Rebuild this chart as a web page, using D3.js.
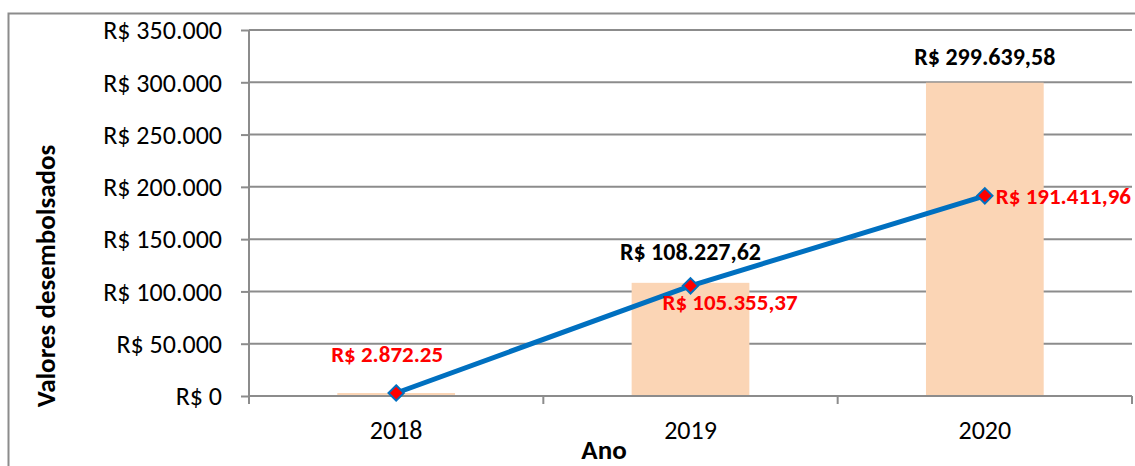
<!DOCTYPE html>
<html>
<head>
<meta charset="utf-8">
<script src="https://cdn.jsdelivr.net/npm/d3@7"></script>
<style>
  body { margin: 0; background: #fff; }
  text { font-family: Calibri, Carlito, Lato, sans-serif; }
</style>
</head>
<body>
<script>
// data
var anos = ["2018", "2019", "2020"];
var valoresBarra = [2872.25, 108227.62, 299639.58];
var valoresLinha = [2872.25, 105355.37, 191411.96];
var rotulosBarra = ["", "R$ 108.227,62", "R$ 299.639,58"];
var rotulosLinha = ["R$ 2.872.25", "R$ 105.355,37", "R$ 191.411,96"];
var ticksY = [0, 50000, 100000, 150000, 200000, 250000, 300000, 350000];

var width = 1135;
var height = 466;
var plot = {left: 249, right: 1132, top: 30, bottom: 396};

var br = d3.formatLocale({decimal: ",", thousands: ".", grouping: [3], currency: ["R$ ", ""]});
var fmt = br.format("$,.0f");

var svg = d3.select("body").append("svg")
    .attr("width", width)
    .attr("height", height);

// outer frame (runs off the right/bottom edge like the original)
svg.append("rect")
    .attr("x", 8.5).attr("y", 13.5)
    .attr("width", 1140).attr("height", 470)
    .attr("fill", "none")
    .attr("stroke", "#8c8c8c")
    .attr("stroke-width", 2);

var x = d3.scaleBand()
    .domain(anos)
    .range([plot.left, plot.right]);

var y = d3.scaleLinear()
    .domain([0, 350000])
    .range([plot.bottom, plot.top]);

// gridlines
svg.append("g").selectAll("line")
    .data(ticksY.filter(function(d) { return d > 0; }))
    .enter().append("line")
    .attr("x1", plot.left).attr("x2", plot.right)
    .attr("y1", function(d) { return y(d); })
    .attr("y2", function(d) { return y(d); })
    .attr("stroke", "#8c8c8c")
    .attr("stroke-width", 2);

// y axis
var yAxis = svg.append("g")
    .attr("transform", "translate(" + plot.left + ",0)")
    .call(d3.axisLeft(y).tickValues(ticksY).tickSize(8).tickPadding(19).tickFormat(fmt));
yAxis.selectAll("line, path").attr("stroke", "#8c8c8c").attr("stroke-width", 2);
yAxis.select("path").attr("d", "M0," + plot.top + "V" + (plot.bottom + 8));
yAxis.selectAll("text")
    .attr("fill", "#000")
    .attr("font-size", 26)
    .attr("dy", "0.34em")
    .attr("font-family", "Calibri, Carlito, Lato, sans-serif");

// bars
var barW = x.bandwidth() * 0.4;
svg.append("g").selectAll("rect")
    .data(valoresBarra)
    .enter().append("rect")
    .attr("x", function(d, i) { return x(anos[i]) + x.bandwidth() / 2 - barW / 2; })
    .attr("y", function(d) { return y(d); })
    .attr("width", barW)
    .attr("height", function(d) { return plot.bottom - y(d); })
    .attr("fill", "#fbd5b5");

// x axis
var xAxis = svg.append("g")
    .attr("transform", "translate(0," + plot.bottom + ")");
xAxis.append("line")
    .attr("x1", plot.left).attr("x2", plot.right)
    .attr("stroke", "#8c8c8c").attr("stroke-width", 2);
xAxis.selectAll(".tk")
    .data(anos)
    .enter().append("line")
    .attr("class", "tk")
    .attr("x1", function(d) { return x(d) + x.bandwidth(); })
    .attr("x2", function(d) { return x(d) + x.bandwidth(); })
    .attr("y1", 0).attr("y2", 8)
    .attr("stroke", "#8c8c8c").attr("stroke-width", 2);
xAxis.selectAll(".lb")
    .data(anos)
    .enter().append("text")
    .attr("class", "lb")
    .attr("x", function(d) { return x(d) + x.bandwidth() / 2; })
    .attr("y", 43)
    .attr("text-anchor", "middle")
    .attr("font-size", 26)
    .text(function(d) { return d; });

// line
var line = d3.line()
    .x(function(d, i) { return x(anos[i]) + x.bandwidth() / 2; })
    .y(function(d) { return y(d); });
svg.append("path")
    .datum(valoresLinha)
    .attr("d", line)
    .attr("fill", "none")
    .attr("stroke", "#0070c0")
    .attr("stroke-width", 5);

svg.append("g").selectAll("path")
    .data(valoresLinha)
    .enter().append("path")
    .attr("transform", function(d, i) {
        return "translate(" + (x(anos[i]) + x.bandwidth() / 2) + "," + y(d) + ")";
    })
    .attr("d", d3.symbol().type(d3.symbolDiamond2).size(150))
    .attr("fill", "#ff0000")
    .attr("stroke", "#0070c0")
    .attr("stroke-width", 2);

// bar labels
var offB = [0, -23, -18];
svg.append("g").selectAll("text")
    .data(valoresBarra)
    .enter().append("text")
    .attr("x", function(d, i) { return x(anos[i]) + x.bandwidth() / 2; })
    .attr("y", function(d, i) { return y(d) + offB[i]; })
    .attr("text-anchor", "middle")
    .attr("font-size", 24)
    .attr("font-weight", "bold")
    .attr("fill", "#000")
    .text(function(d, i) { return rotulosBarra[i]; });

// line labels (placed like the original: above, below-right, right)
var offs = [[-9, -31, "middle"], [-28, 24, "start"], [11, 8, "start"]];
svg.append("g").selectAll("text")
    .data(valoresLinha)
    .enter().append("text")
    .attr("x", function(d, i) { return x(anos[i]) + x.bandwidth() / 2 + offs[i][0]; })
    .attr("y", function(d, i) { return y(d) + offs[i][1]; })
    .attr("text-anchor", function(d, i) { return offs[i][2]; })
    .attr("font-size", 23)
    .attr("font-weight", "bold")
    .attr("fill", "#ff0000")
    .text(function(d, i) { return rotulosLinha[i]; });

// axis titles
svg.append("text")
    .attr("transform", "translate(55," + 276 + ") rotate(-90)")
    .attr("text-anchor", "middle")
    .attr("font-size", 27)
    .attr("font-weight", "bold")
    .text("Valores desembolsados");

svg.append("text")
    .attr("x", 604)
    .attr("y", 459)
    .attr("text-anchor", "middle")
    .attr("font-size", 27)
    .attr("font-weight", "bold")
    .text("Ano");
</script>
</body>
</html>
